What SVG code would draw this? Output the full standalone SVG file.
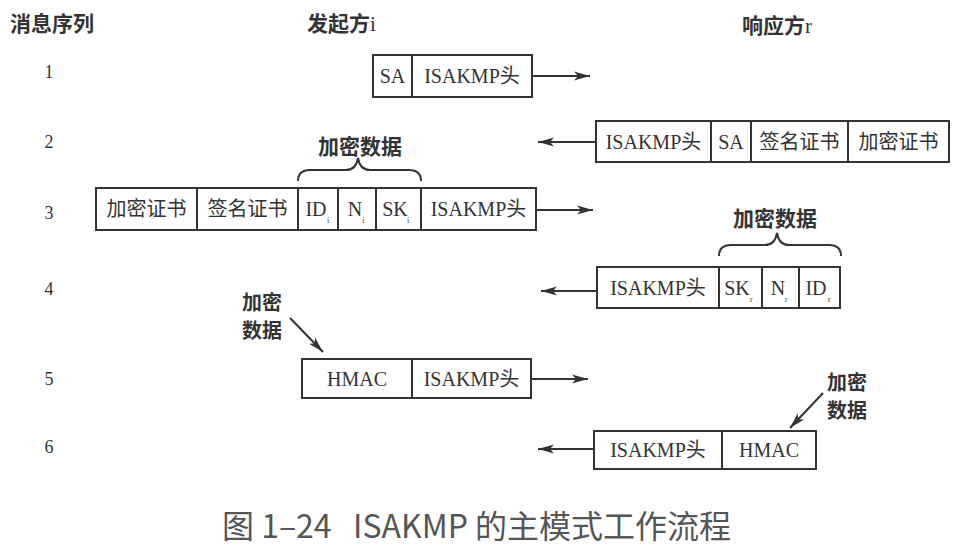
<svg xmlns="http://www.w3.org/2000/svg" width="960" height="548" viewBox="0 0 960 548">
<defs>
<marker id="ah" markerUnits="userSpaceOnUse" markerWidth="18" markerHeight="10" refX="16" refY="5" orient="auto">
<path d="M0,0.5 L16,5 L0,9.5 L4,5 Z" fill="#333"/>
</marker>
</defs>
<style>
.bx{fill:#fff;stroke:#333;stroke-width:2}
.dv{stroke:#333;stroke-width:2}
.t{font-family:"Liberation Serif","Noto Sans CJK SC",serif;font-size:20px;fill:#333;text-anchor:middle;dominant-baseline:central}
.sub{font-family:"Liberation Serif",serif;font-size:8px;fill:#333}
.h{font-family:"Noto Sans CJK SC",sans-serif;font-size:21px;font-weight:bold;fill:#333}
.hl{font-family:"Liberation Serif",serif;font-size:21px;fill:#333}
.n{font-family:"Liberation Serif",serif;font-size:18px;fill:#333;text-anchor:middle;dominant-baseline:central}
.lb{font-family:"Noto Sans CJK SC",sans-serif;font-size:20px;font-weight:bold;fill:#333}
.ar{stroke:#333;stroke-width:2;fill:none;marker-end:url(#ah)}
.br{stroke:#333;stroke-width:2;fill:none}
.cap{font-family:"Noto Sans CJK SC",sans-serif;font-size:32px;fill:#555;dominant-baseline:central}
</style>

<g id="headers">
<text class="h" x="10" y="31">消息序列</text>
<text class="h" x="307" y="31">发起方</text>
<text class="hl" x="370" y="31">i</text>
<text class="h" x="742" y="33">响应方</text>
<text class="hl" x="805" y="33">r</text>
</g>

<g id="seq">
<text class="n" x="49" y="72">1</text>
<text class="n" x="49" y="142">2</text>
<text class="n" x="49" y="213">3</text>
<text class="n" x="49" y="289">4</text>
<text class="n" x="49" y="379">5</text>
<text class="n" x="49" y="447">6</text>
</g>

<g id="msg1">
<rect class="bx" x="373" y="55" width="159" height="42"/>
<line class="dv" x1="412" y1="55" x2="412" y2="97"/>
<text class="t" x="392.5" y="76">SA</text>
<text class="t" x="472" y="76">ISAKMP头</text>
</g>

<g id="msg2">
<rect class="bx" x="596" y="121" width="353" height="41"/>
<line class="dv" x1="711" y1="121" x2="711" y2="162"/>
<line class="dv" x1="751" y1="121" x2="751" y2="162"/>
<line class="dv" x1="848" y1="121" x2="848" y2="162"/>
<text class="t" x="653.5" y="142">ISAKMP头</text>
<text class="t" x="731" y="142">SA</text>
<text class="t" x="799.5" y="142">签名证书</text>
<text class="t" x="898.5" y="142">加密证书</text>
</g>

<g id="msg3">
<rect class="bx" x="96" y="188" width="440" height="42"/>
<line class="dv" x1="197" y1="188" x2="197" y2="230"/>
<line class="dv" x1="298" y1="188" x2="298" y2="230"/>
<line class="dv" x1="338" y1="188" x2="338" y2="230"/>
<line class="dv" x1="376" y1="188" x2="376" y2="230"/>
<line class="dv" x1="421" y1="188" x2="421" y2="230"/>
<text class="t" x="146.5" y="209">加密证书</text>
<text class="t" x="247.5" y="209">签名证书</text>
<text class="t" x="316" y="209">ID</text><text class="sub" x="327" y="223">i</text>
<text class="t" x="355" y="209">N</text><text class="sub" x="362" y="223">i</text>
<text class="t" x="395" y="209">SK</text><text class="sub" x="407" y="223">i</text>
<text class="t" x="478.5" y="209">ISAKMP头</text>
</g>

<g id="enc3">
<text class="lb" x="318" y="154" style="font-size:21px">加密数据</text>
<path class="br" d="M298,181 Q298,170 310,170 L346,170 Q356,170 358,158 Q360,170 370,170 L409,170 Q421,170 421,181"/>
</g>

<g id="msg4">
<rect class="bx" x="597" y="267" width="243" height="41"/>
<line class="dv" x1="719" y1="267" x2="719" y2="308"/>
<line class="dv" x1="762" y1="267" x2="762" y2="308"/>
<line class="dv" x1="799" y1="267" x2="799" y2="308"/>
<text class="t" x="658" y="288">ISAKMP头</text>
<text class="t" x="737" y="288">SK</text><text class="sub" x="750" y="302">r</text>
<text class="t" x="778" y="288">N</text><text class="sub" x="785" y="302">r</text>
<text class="t" x="816" y="288">ID</text><text class="sub" x="828" y="302">r</text>
</g>

<g id="enc4">
<text class="lb" x="733" y="226" style="font-size:21px">加密数据</text>
<path class="br" d="M719,256 Q719,245 731,245 L765,245 Q775,245 777,233 Q779,245 789,245 L829,245 Q841,245 841,256"/>
</g>

<g id="msg5">
<rect class="bx" x="302" y="359" width="229" height="39"/>
<line class="dv" x1="412" y1="359" x2="412" y2="398"/>
<text class="t" x="357" y="379">HMAC</text>
<text class="t" x="471.5" y="379">ISAKMP头</text>
</g>

<g id="enc5">
<text class="lb" x="242" y="310">加密</text>
<text class="lb" x="242" y="338">数据</text>
</g>

<g id="msg6">
<rect class="bx" x="594" y="431" width="222" height="38"/>
<line class="dv" x1="722" y1="431" x2="722" y2="469"/>
<text class="t" x="658" y="450">ISAKMP头</text>
<text class="t" x="769" y="450">HMAC</text>
</g>

<g id="enc6">
<text class="lb" x="827" y="390">加密</text>
<text class="lb" x="827" y="418">数据</text>
</g>

<g id="connectors">
<line class="ar" x1="532" y1="76" x2="590" y2="76"/>
<line class="ar" x1="596" y1="142" x2="538" y2="142"/>
<line class="ar" x1="536" y1="210" x2="593" y2="210"/>
<line class="ar" x1="597" y1="291" x2="541" y2="291"/>
<line class="ar" x1="531" y1="379" x2="588" y2="379"/>
<line class="ar" x1="594" y1="449" x2="538" y2="449"/>
<line class="ar" x1="290" y1="318" x2="323" y2="352"/>
<line class="ar" x1="823" y1="393" x2="790" y2="428"/>
</g>

<text class="cap" x="222" y="524" xml:space="preserve">图 1–24   ISAKMP 的主模式工作流程</text>
</svg>
